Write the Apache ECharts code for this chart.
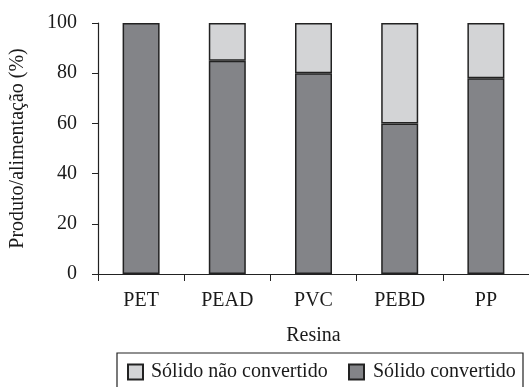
<!DOCTYPE html>
<html>
<head>
<meta charset="utf-8">
<script src="https://cdn.jsdelivr.net/npm/echarts@6/dist/echarts.min.js"></script>
<style>html,body{margin:0;padding:0;background:#fff}#c{width:529px;height:387px}</style>
</head>
<body>
<div id="c"></div>
<script>
var categories = ['PET', 'PEAD', 'PVC', 'PEBD', 'PP'];
var convertido = [100, 85, 80, 60, 78];
var naoConvertido = [0, 15, 20, 40, 22];
var yTicks = [0, 20, 40, 60, 80, 100];
var seriesNames = ['Sólido não convertido', 'Sólido convertido'];
var yTitle = 'Produto/alimentação (%)';
var xTitle = 'Resina';

var FONT = '"Liberation Serif", "Times New Roman", serif';
var TXT = '#1a1a1a';
var chart = echarts.init(document.getElementById('c'), null, {renderer: 'canvas'});
chart.setOption({
  animation: false,
  backgroundColor: '#fff',
  grid: {left: 98, top: 23, width: 442, height: 251, containLabel: false},
  xAxis: {
    type: 'category', data: categories,
    name: xTitle, nameLocation: 'middle', nameGap: 52,
    nameTextStyle: {color: TXT, fontFamily: FONT, fontSize: 20},
    axisLine: {lineStyle: {color: '#222', width: 1.2}},
    axisTick: {show: true, length: 7, alignWithLabel: false, lineStyle: {color: '#222'}},
    axisLabel: {color: TXT, fontFamily: FONT, fontSize: 20, margin: 17}
  },
  yAxis: {
    type: 'value', min: yTicks[0], max: yTicks[yTicks.length - 1], interval: 20,
    name: yTitle, nameLocation: 'middle', nameGap: 70, nameRotate: 90,
    nameTextStyle: {color: TXT, fontFamily: FONT, fontSize: 20},
    axisLine: {show: true, lineStyle: {color: '#222', width: 1.2}},
    axisTick: {show: true, length: 6, inside: false, lineStyle: {color: '#222'}},
    splitLine: {show: false},
    axisLabel: {color: TXT, fontFamily: FONT, fontSize: 20, margin: 21}
  },
  legend: [
    {data: [seriesNames[0]], left: 127, top: 362, padding: 0, itemWidth: 15, itemHeight: 15, icon: 'rect',
     textStyle: {color: TXT, fontFamily: FONT, fontSize: 20, padding: [0, 0, 0, 3]}},
    {data: [seriesNames[1]], left: 348, top: 362, padding: 0, itemWidth: 15, itemHeight: 15, icon: 'rect',
     textStyle: {color: TXT, fontFamily: FONT, fontSize: 20, padding: [0, 0, 0, 4]}}
  ],
  graphic: [
    {type: 'rect', shape: {x: 117, y: 353, width: 406, height: 60}, style: {fill: 'none', stroke: '#222', lineWidth: 1.2}}
  ],
  series: [
    {name: seriesNames[1], type: 'bar', stack: 's', data: convertido.map(function (v) { return v === 0 ? '-' : v; }), barWidth: 37,
     itemStyle: {color: '#838488', borderColor: '#222', borderWidth: 1.5}},
    {name: seriesNames[0], type: 'bar', stack: 's', data: naoConvertido.map(function (v) { return v === 0 ? '-' : v; }), barWidth: 37,
     itemStyle: {color: '#d3d4d6', borderColor: '#222', borderWidth: 1.5}}
  ]
});
</script>
</body>
</html>
